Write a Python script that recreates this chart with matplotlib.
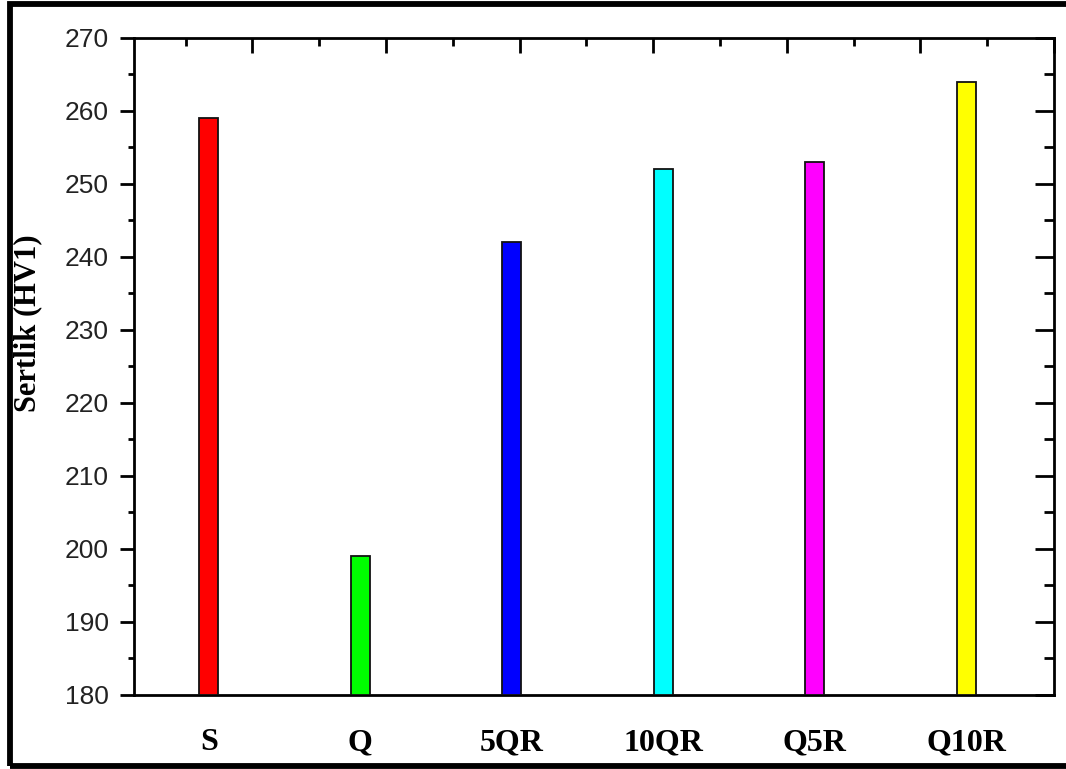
import matplotlib
matplotlib.use("Agg")
import matplotlib.pyplot as plt
from matplotlib.patches import Rectangle
from matplotlib.ticker import MultipleLocator

# Hardness values per sample
samples = ["S", "Q", "5QR", "10QR", "Q5R", "Q10R"]
hardness = [259, 199, 242, 252, 253, 264]
bar_colors = ["#FF0000", "#00FF00", "#0000FF", "#00FFFF", "#FF00FF", "#FFFF00"]
y_label = "Sertlik (HV1)"

W, H = 1066, 769
fig = plt.figure(figsize=(W / 100, H / 100), dpi=100)
ax = fig.add_axes([134 / W, 1 - 695 / H, (1054 - 134) / W, (695 - 38) / H])

positions = list(range(1, len(samples) + 1))
ax.bar(positions, [v - 180 for v in hardness], bottom=180, width=0.125,
       color=bar_colors, edgecolor="#111111", linewidth=1.3, zorder=3)

ax.set_xlim(0.505, 6.58)
ax.set_ylim(180, 270)
ax.yaxis.set_major_locator(MultipleLocator(10))
ax.yaxis.set_minor_locator(MultipleLocator(5))

ax.set_xticks(positions)
ax.set_xticklabels(samples, fontfamily="Liberation Serif", fontweight="bold", fontsize=23)
ax.tick_params(axis="x", which="both", length=0, pad=24)
ax.tick_params(axis="y", which="major", direction="out", length=10, width=2,
               labelsize=19, pad=8, right=True, labelright=False)
ax.tick_params(axis="y", which="minor", direction="out", length=4.5, width=2, right=True)
for lab in ax.get_yticklabels():
    lab.set_fontfamily("Liberation Sans")
    lab.set_color("#222222")

# right-side ticks point inward
for t in ax.yaxis.get_major_ticks() + ax.yaxis.get_minor_ticks():
    t.tick2line.set_marker(matplotlib.lines.TICKLEFT)
for t in ax.yaxis.get_major_ticks():
    t.tick2line.set_markersize(14)
for t in ax.yaxis.get_minor_ticks():
    t.tick2line.set_markersize(7)

for sp in ax.spines.values():
    sp.set_linewidth(2)

# top axis with its own tick scale
top = ax.twiny()
top.set_xlim(0.113, 7.0)
top.xaxis.set_major_locator(MultipleLocator(1))
top.xaxis.set_minor_locator(MultipleLocator(0.5))
top.tick_params(axis="x", which="major", direction="in", length=10.5, width=2, labeltop=False)
top.tick_params(axis="x", which="minor", direction="in", length=5.5, width=2)
for sp in top.spines.values():
    sp.set_visible(False)

fig.text(28 / W, 1 - 323 / H, y_label, rotation=90, ha="center", va="center",
         fontfamily="Liberation Serif", fontweight="bold", fontsize=22)

# outer frame
fig.patches.append(Rectangle((10 / W, 3.5 / H), 1.2, 1 - 7 / H, transform=fig.transFigure,
                             fill=False, edgecolor="black", linewidth=4.2, clip_on=False))

fig.savefig("out.png", dpi=100)
